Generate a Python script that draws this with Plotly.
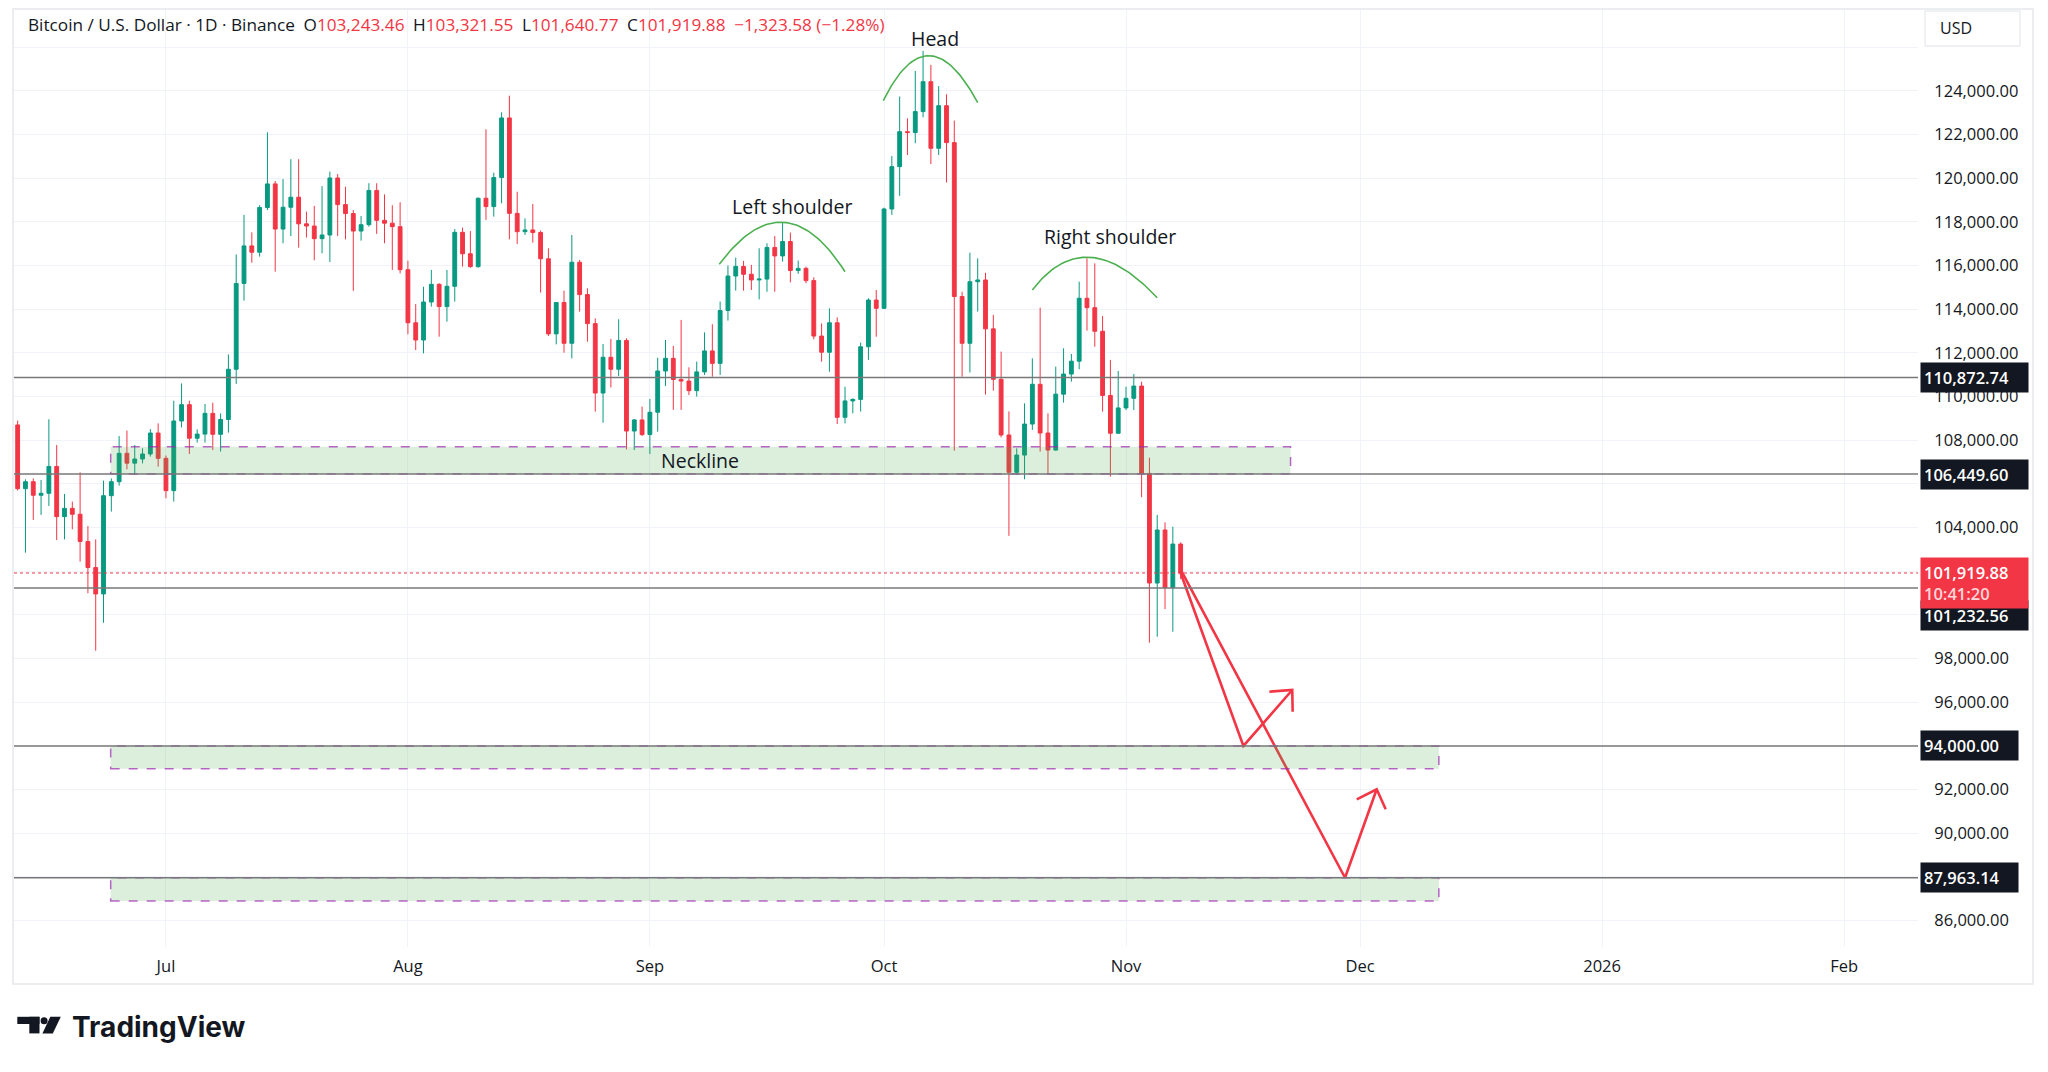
import numpy as np
import pandas as pd
import plotly.graph_objects as go

# ---------------- data ----------------
first_day = "2025-06-12"

opens = [
    108700, 105780, 106100, 105480, 105570, 106800, 104500, 104880, 104610, 103360,
    102170, 100960, 105460, 106100, 107400, 106950, 107140, 107370, 108330,
    107170, 105690, 108880, 109630, 108090, 108280, 109230, 108270, 108950, 111250,
    115180, 116900, 116610, 118660, 119740, 117670, 118670, 119130, 117910, 117810,
    117230, 117400, 120010, 118790, 118380, 117580, 117870, 119440, 118070, 117940, 117780,
    115810, 113380, 112590, 114330, 115140, 114120, 115050, 117520, 116540, 115950,
    119080, 118700, 120030, 122760, 118390, 117550, 117630, 117510, 116310, 112870,
    114310, 112440, 116150, 114670, 113340, 110160, 111800, 111250, 112570, 108420, 108930,
    108260, 109280, 111170, 111750, 110780, 110710, 110270, 111130, 112090, 111520,
    113940, 115520, 115960, 115600, 115340, 115380, 116830, 116440, 117100, 115770,
    115870, 115310, 112770, 112030, 113380, 109050, 109800, 109870, 112280, 114420,
    114040, 118590, 120530, 122130, 122090, 123050, 124420, 121370, 123320, 121630,
    114580, 112440, 115260, 115340, 113100, 110790, 108240, 106530, 107320, 108740,
    110560, 108330, 107550, 110110, 111030, 111620, 114500, 114070, 112990, 110050, 108320,
    109480, 109920, 110480, 106480, 101460, 103890, 101250, 103243.46,
]
highs = [
    108900, 106210, 106250, 106180, 108960, 107780, 105540, 105190, 106530, 104070,
    103460, 106150, 106250, 108190, 108440, 107780, 107630, 108510, 108770,
    107300, 109810, 110600, 109810, 108500, 109660, 109720, 109230, 111930, 116510,
    118320, 117520, 118760, 122100, 119870, 119960, 120870, 120870, 118470, 118730,
    119640, 120300, 120190, 119610, 118540, 118270, 119770, 119770, 119260, 118760, 118900,
    116220, 114240, 115030, 115800, 115190, 115800, 117670, 117740, 117580, 119120,
    122240, 120250, 123020, 123780, 119380, 118160, 118820, 117600, 116790, 114320,
    114850, 117400, 116260, 114960, 113580, 112410, 112640, 113540, 112670, 108970, 109540,
    109890, 111780, 112590, 112320, 113510, 111340, 111600, 112940, 113310, 114350,
    116000, 116360, 116210, 116030, 116790, 117020, 117350, 117960, 117510, 116230,
    115950, 115460, 113350, 114040, 113630, 110450, 109920, 112470, 114500, 114880,
    118650, 121020, 123740, 122740, 124910, 125830, 125190, 124220, 123840, 122640,
    114800, 116590, 116330, 115670, 113740, 112060, 109320, 107630, 109690, 111750,
    114070, 109230, 111370, 112210, 111950, 115260, 116330, 116100, 113690, 111680, 111170,
    110450, 111030, 110680, 107200, 104580, 104240, 104040, 103321.55,
]
lows = [
    105700, 102850, 104350, 104580, 104990, 103430, 103460, 103920, 102440, 100990,
    98360, 99640, 104730, 105920, 106670, 106410, 106940, 107250, 106790,
    105340, 105190, 108580, 107370, 107890, 107890, 107550, 107480, 108350, 110580,
    114390, 116130, 116410, 118540, 115720, 117020, 117350, 116820, 117280, 116240,
    116560, 116160, 117350, 117200, 114840, 117140, 117780, 117450, 117020, 115800, 115640,
    112850, 112130, 111980, 114120, 112740, 113430, 114350, 115950, 115900, 115900,
    118090, 118240, 118850, 117200, 116990, 117400, 117050, 114760, 112770, 112390,
    112010, 111750, 113890, 112510, 109310, 108800, 110420, 110940, 107580, 107550, 108190,
    107370, 108390, 110480, 109390, 109390, 110070, 110000, 110990, 110910, 110990,
    113480, 114850, 114850, 114880, 114450, 114800, 114800, 116180, 115230, 115620,
    115190, 112620, 111600, 111140, 108740, 108770, 109230, 109310, 111680, 112740,
    114010, 118320, 119190, 121060, 121600, 122790, 120650, 121060, 119800, 107520,
    110910, 111100, 113890, 110090, 110270, 108130, 103620, 106410, 106210, 108470,
    107480, 106480, 107520, 109720, 110680, 111250, 113020, 112280, 109310, 106330, 108300,
    109380, 109380, 105390, 98730, 99000, 100270, 99230, 101640.77,
]
closes = [
    105780, 106100, 105480, 105570, 106800, 104500, 104880, 104610, 103360, 102170,
    100960, 105460, 106100, 107400, 106950, 107140, 107370, 108330, 107170,
    105690, 108880, 109630, 108090, 108280, 109230, 108270, 108950, 111250, 115180,
    116900, 116610, 118660, 119740, 117670, 118670, 119130, 117910, 117810, 117230,
    117400, 120010, 118790, 118380, 117580, 117870, 119440, 118070, 117940, 117780, 115810,
    113380, 112590, 114330, 115140, 114120, 115050, 117520, 116540, 115950, 119080,
    118700, 120030, 122760, 118390, 117550, 117630, 117510, 116310, 112870, 114310,
    112440, 116150, 114670, 113340, 110160, 111800, 111250, 112570, 108420, 108930, 108260,
    109280, 111170, 111750, 110780, 110710, 110270, 111130, 112090, 111520, 113940,
    115520, 115960, 115600, 115340, 115380, 116830, 116440, 117100, 115770, 115870,
    115310, 112770, 112030, 113380, 109050, 109800, 109870, 112280, 114420, 114040,
    118590, 120530, 122130, 122090, 123050, 124420, 121370, 123320, 121630, 114580,
    112440, 115260, 115340, 113100, 110790, 108240, 106530, 107320, 108740, 110560,
    108330, 107550, 110110, 111030, 111620, 114500, 114070, 112990, 110050, 108320, 109480,
    109920, 110480, 106480, 101460, 103890, 101250, 103243.46, 101919.88,
]

level_prices = [110872.74, 106449.60, 101232.56, 94000.00, 87963.14]
level_label_shift = [0, 0, -28, 0, 0]

zone_start = ["2025-06-23 22:00", "2025-06-23 22:00", "2025-06-23 22:00"]
zone_end = ["2025-11-22 02:00", "2025-12-11 02:00", "2025-12-11 02:00"]
zone_low = [106449.60, 92950, 86900]
zone_high = [107700, 94000, 87963.14]

arc_times = [
    ["2025-09-09 21:20", "2025-09-18 02:00", "2025-09-26 00:00"],
    ["2025-09-30 21:40", "2025-10-06 19:00", "2025-10-13 00:00"],
    ["2025-10-20 00:00", "2025-10-27 09:20", "2025-11-05 00:00"],
]
arc_prices = [
    [116057, 117981, 115718],
    [123550, 125611, 123458],
    [114880, 116378, 114527],
]

pattern_labels = ["Left shoulder", "Head", "Right shoulder", "Neckline"]
pattern_label_times = ["2025-09-19 04:00", "2025-10-07 12:00", "2025-10-29 23:00", "2025-09-07 11:30"]
pattern_label_prices = [118704, 126407, 117353, 107081]

arrow_paths_t = [
    ["2025-11-08 00:00", "2025-11-16 01:00", "2025-11-22 07:10"],
    ["2025-11-08 03:00", "2025-11-29 01:30", "2025-12-03 02:50"],
]
arrow_paths_p = [
    [101919.88, 94000, 96561],
    [101990, 87963.14, 92013],
]
arrow_heads_t = [
    ["2025-11-19 08:40", "2025-11-22 07:10", "2025-11-22 08:25"],
    ["2025-11-30 13:30", "2025-12-03 02:50", "2025-12-04 06:30"],
]
arrow_heads_p = [
    [96484, 96561, 95567],
    [91555, 92013, 91097],
]

month_ticks = ["2025-07-01", "2025-08-01", "2025-09-01", "2025-10-01",
               "2025-11-01", "2025-12-01", "2026-01-01", "2026-02-01"]
month_labels = ["Jul", "Aug", "Sep", "Oct", "Nov", "Dec", "2026", "Feb"]

price_ticks = list(range(86000, 128000, 2000))
# labels hidden behind the USD button / price tags in the reference
hidden_price_labels = [126000, 106000, 102000, 100000, 94000, 88000]
price_tick_labels = ["" if v in hidden_price_labels else f"{v:,.2f}" for v in price_ticks]

x_range = ["2025-06-11 12:45", "2026-02-10 11:15"]
y_range = [84791, 127703]

countdown = "10:41:20"

# ---------------- styling / layout helpers ----------------
W, H = 2048, 1072
PL, PR, PT, PB = 14, 1918, 10, 947
GREEN = "#089981"
RED = "#f23645"
TXT = "#131722"
FONT = "Open Sans"


def px(x):
    return (x - PL) / (PR - PL)


def py(y):
    return (PB - y) / (PB - PT)


dates = pd.date_range(first_day, periods=len(opens), freq="D")

fig = go.Figure()
fig.add_trace(go.Candlestick(
    x=dates, open=opens, high=highs, low=lows, close=closes,
    increasing=dict(line=dict(color=GREEN, width=1), fillcolor=GREEN),
    decreasing=dict(line=dict(color=RED, width=1), fillcolor=RED),
    whiskerwidth=0, showlegend=False, hoverinfo="skip",
))

# arcs (quadratic curves through start / apex / end)
for times, prices in zip(arc_times, arc_prices):
    tn = np.array([pd.Timestamp(t).value for t in times], dtype=float)
    pn = np.array(prices, dtype=float)
    ct = 2 * tn[1] - (tn[0] + tn[2]) / 2
    cp = 2 * pn[1] - (pn[0] + pn[2]) / 2
    s = np.linspace(0, 1, 60)
    bt = (1 - s) ** 2 * tn[0] + 2 * s * (1 - s) * ct + s ** 2 * tn[2]
    bp = (1 - s) ** 2 * pn[0] + 2 * s * (1 - s) * cp + s ** 2 * pn[2]
    fig.add_trace(go.Scatter(
        x=pd.to_datetime(bt.astype("int64")), y=bp, mode="lines",
        line=dict(color="#4caf50", width=1.6), hoverinfo="skip", showlegend=False))

# arrows
for t, p in zip(arrow_paths_t + arrow_heads_t, arrow_paths_p + arrow_heads_p):
    fig.add_trace(go.Scatter(
        x=pd.to_datetime(t), y=p, mode="lines",
        line=dict(color=RED, width=2.6), hoverinfo="skip", showlegend=False))

shapes = []
# zones
for x0, x1, y0, y1 in zip(zone_start, zone_end, zone_low, zone_high):
    shapes.append(dict(type="rect", xref="x", yref="y", x0=x0, x1=x1, y0=y0, y1=y1,
                       fillcolor="rgba(76,175,80,0.2)",
                       line=dict(color="rgba(156,39,176,0.7)", width=1.5, dash="dash")))
# horizontal levels
for lv in level_prices:
    shapes.append(dict(type="line", xref="paper", yref="y", x0=0, x1=1, y0=lv, y1=lv,
                       line=dict(color="#787878", width=1.5)))
# current price dotted
shapes.append(dict(type="line", xref="paper", yref="y", x0=0, x1=1,
                   y0=closes[-1], y1=closes[-1], line=dict(color=RED, width=1, dash="dot")))
# outer frame
shapes.append(dict(type="rect", xref="paper", yref="paper", x0=px(13), x1=px(2033),
                   y0=py(984), y1=py(9), line=dict(color="#e6e8ec", width=1.5),
                   fillcolor="rgba(0,0,0,0)"))
# USD button
shapes.append(dict(type="rect", xref="paper", yref="paper", x0=px(1925), x1=px(2020),
                   y0=py(46), y1=py(11), line=dict(color="#e0e3eb", width=1),
                   fillcolor="white"))
# TradingView logo mark
shapes.append(dict(type="rect", xref="paper", yref="paper", x0=px(17.3), x1=px(39.5),
                   y0=py(1024), y1=py(1016.8), line=dict(width=0), fillcolor=TXT))
shapes.append(dict(type="rect", xref="paper", yref="paper", x0=px(29.3), x1=px(39.5),
                   y0=py(1033.4), y1=py(1016.8), line=dict(width=0), fillcolor=TXT))
shapes.append(dict(type="circle", xref="paper", yref="paper", x0=px(40.6), x1=px(47.6),
                   y0=py(1024.3), y1=py(1017.3), line=dict(width=0), fillcolor=TXT))
shapes.append(dict(type="path", xref="paper", yref="paper",
                   path=f"M {px(50.3)} {py(1016.8)} L {px(60.8)} {py(1016.8)} "
                        f"L {px(52.8)} {py(1033.4)} L {px(42.4)} {py(1033.4)} Z",
                   line=dict(width=0), fillcolor=TXT))

annotations = []
for txt, t, p in zip(pattern_labels, pattern_label_times, pattern_label_prices):
    annotations.append(dict(x=t, y=p, xref="x", yref="y", text=txt, showarrow=False,
                            font=dict(family=FONT, size=19.5, color=TXT)))

for lv, sh in zip(level_prices, level_label_shift):
    lab = f"{lv:,.2f}"
    annotations.append(dict(x=1, y=lv, xref="paper", yref="y", xanchor="left",
                            yanchor="middle", xshift=2, yshift=sh, align="left",
                            width=10.1 * len(lab), text=lab, showarrow=False,
                            bgcolor="#131722", borderpad=3,
                            font=dict(family=FONT, size=16.5, color="white", weight=600)))
cur_lab = f"{closes[-1]:,.2f}"
annotations.append(dict(x=1, y=closes[-1], xref="paper", yref="y", xanchor="left",
                        yanchor="middle", xshift=2, yshift=-10, align="left",
                        width=10.1 * len(cur_lab),
                        text=f"{cur_lab}<br><span style='color:#ffd6da'>{countdown}</span>",
                        showarrow=False, bgcolor=RED, borderpad=3,
                        font=dict(family=FONT, size=16.5, color="white", weight=600)))

chg = closes[-1] - closes[-2]
pct = chg / closes[-2] * 100
sp = "\u2002"
header = (f"Bitcoin / U.S. Dollar · 1D · Binance{sp}"
          f"O<span style='color:{RED}'>{opens[-1]:,.2f}</span>{sp}"
          f"H<span style='color:{RED}'>{highs[-1]:,.2f}</span>{sp}"
          f"L<span style='color:{RED}'>{lows[-1]:,.2f}</span>{sp}"
          f"C<span style='color:{RED}'>{closes[-1]:,.2f}</span>{sp}"
          f"<span style='color:{RED}'>{chg:,.2f} ({pct:.2f}%)</span>").replace("-", "\u2212")
annotations.append(dict(x=px(26), y=py(25), xref="paper", yref="paper", xanchor="left",
                        yanchor="middle", text=header, showarrow=False,
                        font=dict(family=FONT, size=17.2, color=TXT)))
annotations.append(dict(x=px(1938), y=py(28), xref="paper", yref="paper", xanchor="left",
                        yanchor="middle", text="USD", showarrow=False,
                        font=dict(family=FONT, size=16, color=TXT)))
annotations.append(dict(x=px(70), y=py(1027), xref="paper", yref="paper", xanchor="left",
                        yanchor="middle", text="<b>TradingView</b>", showarrow=False,
                        font=dict(family="Inter", size=28, color=TXT)))

fig.update_layout(
    width=W, height=H,
    margin=dict(l=PL, r=W - PR, t=PT, b=H - PB),
    paper_bgcolor="white", plot_bgcolor="white",
    font=dict(family=FONT, color=TXT),
    showlegend=False,
    shapes=shapes, annotations=annotations,
    xaxis=dict(type="date", range=x_range, tickvals=month_ticks, ticktext=month_labels,
               showgrid=True, gridcolor="#f0f3fa", gridwidth=1, zeroline=False,
               showline=False, ticks="outside", ticklen=4, tickcolor="rgba(0,0,0,0)",
               tickfont=dict(family=FONT, size=16.5, color=TXT),
               rangeslider=dict(visible=False), fixedrange=True),
    yaxis=dict(side="right", range=y_range, tickvals=price_ticks, ticktext=price_tick_labels,
               showgrid=True, gridcolor="#f0f3fa", gridwidth=1, zeroline=False,
               showline=False, ticks="outside", ticklen=12, tickcolor="rgba(0,0,0,0)",
               tickfont=dict(family=FONT, size=16.5, color=TXT), fixedrange=True),
)

fig.write_html("out.html", config={"displayModeBar": False})
